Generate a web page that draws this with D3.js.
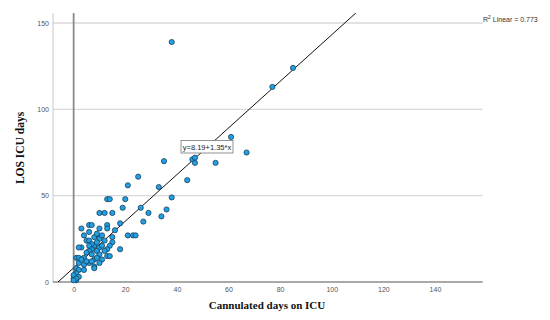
<!DOCTYPE html>
<html>
<head>
<meta charset="utf-8">
<script src="https://cdn.jsdelivr.net/npm/d3@7"></script>
<style>
  body { margin: 0; background: #fff; }
  .tick text { font-family: "Liberation Sans", Arial, sans-serif; font-size: 7px; fill: #555; }
</style>
</head>
<body>
<div id="chart"></div>
<script>
// cannulated days (x) vs LOS ICU days (y)
const cannulatedDays = [38, 77, 85, 61, 67, 55, 46, 47, 47, 44, 38, 35, 25, 21, 33, 20, 26, 29, 36, 34, 27, 21, 23, 24,
  13, 14, 19, 15, 10, 12, 18, 13, 13, 10, 16, 3, 6, 7,
  6, 4, 8, 10, 15, 5, 6, 12, 10, 15, 14, 8, 7, 10, 11, 13, 3, 2, 6, 9, 18, 5, 7, 10, 1, 2, 13, 14, 11, 8, 4, 6, 4, 2, 10, 8, 8, 1, 2, 4, 1, 2, 0, 1,
  3, 5, 9, 7, 9, 6, 12, 11, 9, 7, 0, 1, 0];
const losDays = [139, 113, 124, 84, 75, 69, 71, 72, 69, 59, 49, 70, 61, 56, 55, 48, 43, 40, 42, 38, 35, 27, 27, 27,
  48, 48, 43, 40, 40, 40, 34, 33, 31, 31, 30, 31, 33, 33,
  29, 27, 26, 26, 26, 24, 24, 24, 25, 23, 21, 21, 19, 20, 21, 19, 20, 20, 18, 18, 19, 17, 16, 16, 14, 14, 15, 15, 13, 13, 14, 11, 10, 11, 11, 9, 8, 8, 7, 7, 5, 3, 2, 1,
  13, 12, 14, 22, 23, 21, 18, 27, 28, 12, 4, 2, 1];
const xTicks = [0, 20, 40, 60, 80, 100, 120, 140];
const yTicks = [0, 50, 100, 150];
const fitA = 8.19, fitB = 1.35;
const fitLabel = "y=8.19+1.35*x";
const r2Label = "Linear = 0.773";

const width = 550, height = 320;
const plotLeft = 53, plotRight = 482.7, plotTop = 13, plotBottom = 282;

const svg = d3.select("#chart").append("svg")
  .attr("width", width)
  .attr("height", height);

const x = d3.scaleLinear().domain([-8, 158.5]).range([plotLeft, plotRight]);
const y = d3.scaleLinear().domain([0, 155.8]).range([plotBottom, plotTop]);

// gridlines
svg.append("g").selectAll("line")
  .data(yTicks.slice(1))
  .enter().append("line")
  .attr("x1", plotLeft).attr("x2", plotRight)
  .attr("y1", d => y(d)).attr("y2", d => y(d))
  .attr("stroke", "#d8d8d8")
  .attr("stroke-width", 1.3);

// left frame line
svg.append("line")
  .attr("x1", plotLeft).attr("x2", plotLeft)
  .attr("y1", plotTop).attr("y2", plotBottom)
  .attr("stroke", "#c8c8c8");

// reference line at x = 0
svg.append("line")
  .attr("x1", x(0)).attr("x2", x(0))
  .attr("y1", plotTop).attr("y2", plotBottom)
  .attr("stroke", "#8a8a8a")
  .attr("stroke-width", 1.8);

// axes
svg.append("g")
  .attr("transform", "translate(0," + plotBottom + ")")
  .call(d3.axisBottom(x).tickValues(xTicks).tickSize(0).tickPadding(5))
  .call(g => g.select(".domain").remove());

svg.append("g")
  .attr("transform", "translate(" + plotLeft + ",0)")
  .call(d3.axisLeft(y).tickValues(yTicks).tickSize(0).tickPadding(4))
  .call(g => g.select(".domain").remove());

svg.append("line")
  .attr("x1", plotLeft).attr("x2", plotRight)
  .attr("y1", plotBottom).attr("y2", plotBottom)
  .attr("stroke", "#555")
  .attr("stroke-width", 1.2);

// fit line, clipped to the plot
svg.append("clipPath").attr("id", "plotClip")
  .append("rect")
  .attr("x", plotLeft).attr("y", plotTop)
  .attr("width", plotRight - plotLeft).attr("height", plotBottom - plotTop);

const x0 = (0 - fitA) / fitB, x1 = (155.8 - fitA) / fitB;
svg.append("line")
  .attr("clip-path", "url(#plotClip)")
  .attr("x1", x(x0)).attr("y1", y(0))
  .attr("x2", x(x1)).attr("y2", y(155.8))
  .attr("stroke", "#111")
  .attr("stroke-width", 1);

// points
const pts = cannulatedDays.map((d, i) => ({ x: d, y: losDays[i] }));
svg.append("g").selectAll("circle")
  .data(pts)
  .enter().append("circle")
  .attr("cx", d => x(d.x))
  .attr("cy", d => y(d.y))
  .attr("r", 2.6)
  .attr("fill", "#22a0e2")
  .attr("stroke", "#163a55")
  .attr("stroke-width", 0.75);

// fit equation box
const box = svg.append("g").attr("transform", "translate(181,140.5)");
box.append("rect")
  .attr("width", 52).attr("height", 12.5)
  .attr("fill", "#fff")
  .attr("stroke", "#777")
  .attr("stroke-width", 0.8);
box.append("text")
  .attr("x", 26).attr("y", 9.3)
  .attr("text-anchor", "middle")
  .style("font-family", "Liberation Sans, Arial, sans-serif")
  .style("font-size", "7.5px")
  .style("fill", "#222")
  .text(fitLabel);

// R squared label
const r2 = svg.append("text")
  .attr("x", 483).attr("y", 22)
  .style("font-family", "Liberation Sans, Arial, sans-serif")
  .style("font-size", "7px")
  .style("fill", "#333");
r2.append("tspan").text("R");
r2.append("tspan").attr("dy", -3).style("font-size", "5px").text("2");
r2.append("tspan").attr("dy", 3).text(" " + r2Label);

// axis titles
svg.append("text")
  .attr("transform", "translate(24,148) rotate(-90)")
  .attr("text-anchor", "middle")
  .style("font-family", "Liberation Serif, serif")
  .style("font-weight", "bold")
  .style("font-size", "11.5px")
  .style("fill", "#111")
  .text("LOS ICU days");

svg.append("text")
  .attr("x", 267).attr("y", 309)
  .attr("text-anchor", "middle")
  .style("font-family", "Liberation Serif, serif")
  .style("font-weight", "bold")
  .style("font-size", "11px")
  .style("fill", "#111")
  .text("Cannulated days on ICU");
</script>
</body>
</html>
